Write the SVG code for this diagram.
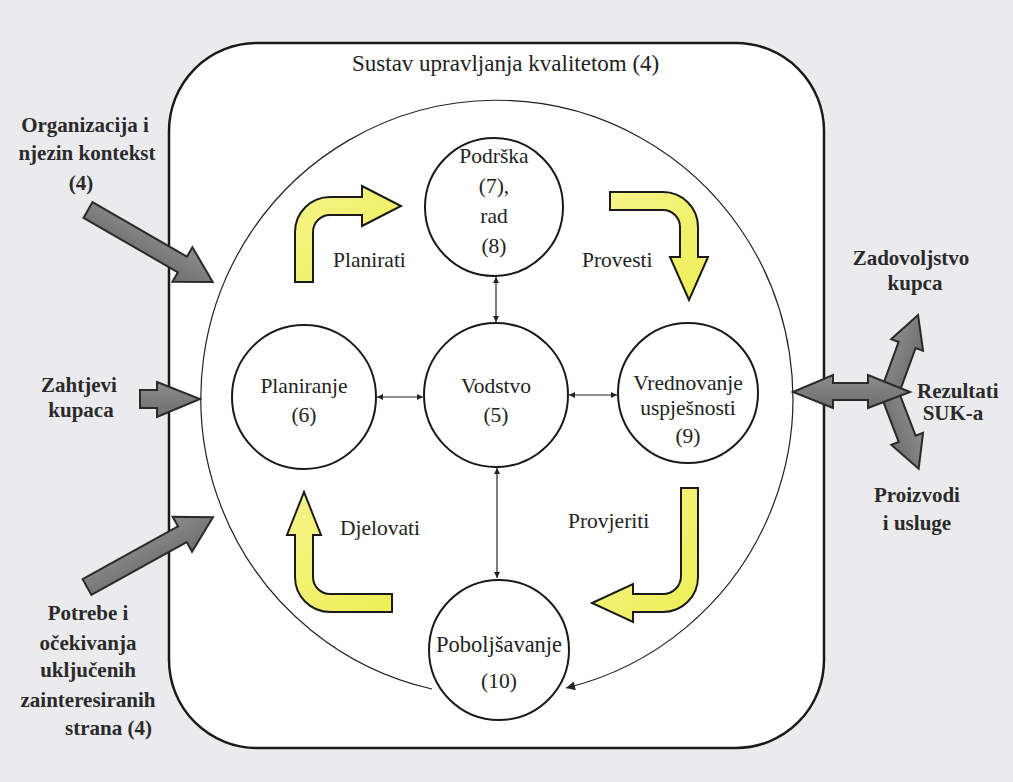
<svg xmlns="http://www.w3.org/2000/svg" width="1013" height="782" viewBox="0 0 1013 782" font-family="'Liberation Serif', 'DejaVu Serif', serif">
<defs>
<style>
text{font-family:'Liberation Serif','DejaVu Serif',serif}
.node circle{fill:#fff;stroke:#1a1a1a;stroke-width:2}
.t{font-size:21.5px;fill:#222;text-anchor:middle}
.lb{font-size:21px;font-weight:bold;fill:#2a2a2a;text-anchor:middle}
.conn{fill:none;stroke:#222;stroke-width:1.2}
.yel{fill:url(#yg);stroke:#1a1a1a;stroke-width:2;stroke-linejoin:miter}
.gray{fill:url(#gg);stroke:#2a2a2a;stroke-width:2;stroke-linejoin:miter}
</style>
<linearGradient id="yg" x1="0" y1="0" x2="1" y2="1"><stop offset="0" stop-color="#f4f48a"/><stop offset="1" stop-color="#eeee55"/></linearGradient>
<linearGradient id="gg" x1="0" y1="0" x2="0" y2="1"><stop offset="0" stop-color="#8c8c8c"/><stop offset="1" stop-color="#6e6e6e"/></linearGradient>
<marker id="ah" viewBox="0 0 10 10" refX="10" refY="5" markerWidth="9" markerHeight="6" markerUnits="userSpaceOnUse" orient="auto-start-reverse"><path d="M0,0 L10,5 L0,10 z" fill="#222"/></marker>
<marker id="ahb" viewBox="0 0 10 10" refX="10" refY="5" markerWidth="16" markerHeight="9" markerUnits="userSpaceOnUse" orient="auto"><path d="M0,0 L10,5 L0,10 z" fill="#222"/></marker>
</defs>
<rect x="0" y="0" width="1013" height="782" fill="#ebebee"/>
<g id="system">
<rect x="169" y="43" width="655" height="705" rx="88" ry="88" fill="#fff" stroke="#1a1a1a" stroke-width="2.5"/>
<text x="352" y="71" class="t" style="text-anchor:start;font-size:23px">Sustav upravljanja kvalitetom (4)</text>
</g>
<g id="connectors">
<path class="conn" d="M 432 689 A 296 298 0 1 1 566 688" stroke-width="2" marker-end="url(#ahb)"/>
<path class="conn" d="M 496 277 V 322" marker-start="url(#ah)" marker-end="url(#ah)"/>
<path class="conn" d="M 377 397 H 423" marker-start="url(#ah)" marker-end="url(#ah)"/>
<path class="conn" d="M 569 395 H 617" marker-start="url(#ah)" marker-end="url(#ah)"/>
<path class="conn" d="M 497 468 V 578" marker-start="url(#ah)" marker-end="url(#ah)"/>
</g>
<g id="cycle-arrows">
<path class="yel" d="M 295 282 V 232 A 35 35 0 0 1 330 197 H 362 V 186 L 401 206 L 362 226 V 215 H 330 A 17 17 0 0 0 313 232 V 282 Z"/>
<path class="yel" d="M 610 192 H 663 A 35 35 0 0 1 698 227 V 257 H 708 L 689 300 L 670 257 H 680 V 227 A 17 17 0 0 0 663 210 H 610 Z"/>
<path class="yel" d="M 681 488 H 698 V 577 A 35 35 0 0 1 663 612 H 633 V 622 L 592 603 L 633 584 V 594 H 663 A 18 18 0 0 0 681 576 Z"/>
<path class="yel" d="M 392 594 V 612 H 330 A 35 35 0 0 1 295 577 V 535 H 287 L 304 492 L 321 535 H 313 V 577 A 17 17 0 0 0 330 594 Z"/>
<text x="333" y="267" class="t" style="text-anchor:start">Planirati</text>
<text x="582" y="267" class="t" style="text-anchor:start">Provesti</text>
<text x="340" y="535" class="t" style="text-anchor:start">Djelovati</text>
<text x="568" y="528" class="t" style="text-anchor:start">Provjeriti</text>
</g>
<g id="node-podrska" class="node">
<circle cx="494" cy="207" r="69"/>
<text x="494" y="163" class="t">Podrška</text>
<text x="494" y="193" class="t">(7),</text>
<text x="494" y="223" class="t">rad</text>
<text x="494" y="253" class="t">(8)</text>
</g>
<g id="node-planiranje" class="node">
<circle cx="304" cy="397" r="72"/>
<text x="304" y="393" class="t">Planiranje</text>
<text x="304" y="422" class="t">(6)</text>
</g>
<g id="node-vodstvo" class="node">
<circle cx="496" cy="395" r="72"/>
<text x="496" y="393" class="t">Vodstvo</text>
<text x="496" y="422" class="t">(5)</text>
</g>
<g id="node-vrednovanje" class="node">
<circle cx="688" cy="393" r="70"/>
<text x="688" y="390" class="t">Vrednovanje</text>
<text x="688" y="415" class="t">uspješnosti</text>
<text x="688" y="443" class="t">(9)</text>
</g>
<g id="node-poboljsavanje" class="node">
<circle cx="499" cy="650" r="70"/>
<text x="499" y="652" class="t" style="font-size:22.5px">Poboljšavanje</text>
<text x="499" y="688" class="t">(10)</text>
</g>
<g id="inputs">
<polygon class="gray" transform="translate(88,210) rotate(30)" points="0,-9 109,-9 109,-20 144,0 109,20 109,9 0,9"/>
<polygon class="gray" points="140,390 157,390 157,382 200,399 157,417 157,408 140,408"/>
<polygon class="gray" transform="translate(87,587) rotate(-29)" points="0,-9 109,-9 109,-20 144,0 109,20 109,9 0,9"/>
<text x="85" y="132" class="lb">Organizacija i</text>
<text x="87" y="160" class="lb">njezin kontekst</text>
<text x="81" y="190" class="lb">(4)</text>
<text x="79" y="392" class="lb">Zahtjevi</text>
<text x="81" y="417" class="lb">kupaca</text>
<text x="88" y="620" class="lb">Potrebe i</text>
<text x="88" y="650" class="lb">očekivanja</text>
<text x="88" y="677" class="lb">uključenih</text>
<text x="88" y="707" class="lb">zainteresiranih</text>
<text x="152" y="735" class="lb" style="text-anchor:end">strana  (4)</text>
</g>
<g id="outputs">
<polygon class="gray" transform="translate(890,392) rotate(-70)" points="0,-9 50,-9 50,-17 82,0 50,17 50,9 0,9"/>
<polygon class="gray" transform="translate(890,394) rotate(69)" points="0,-9 48,-9 48,-17 80,0 48,17 48,9 0,9"/>
<polygon class="gray" points="793,392 833,375 833,383 868,383 868,375 910,392 868,408 868,400 833,400 833,408"/>
<text x="911" y="265" class="lb">Zadovoljstvo</text>
<text x="915" y="290" class="lb">kupca</text>
<text x="917" y="398" class="lb" style="text-anchor:start">Rezultati</text>
<text x="953" y="420" class="lb">SUK-a</text>
<text x="917" y="502" class="lb">Proizvodi</text>
<text x="917" y="530" class="lb">i usluge</text>
</g>
</svg>
